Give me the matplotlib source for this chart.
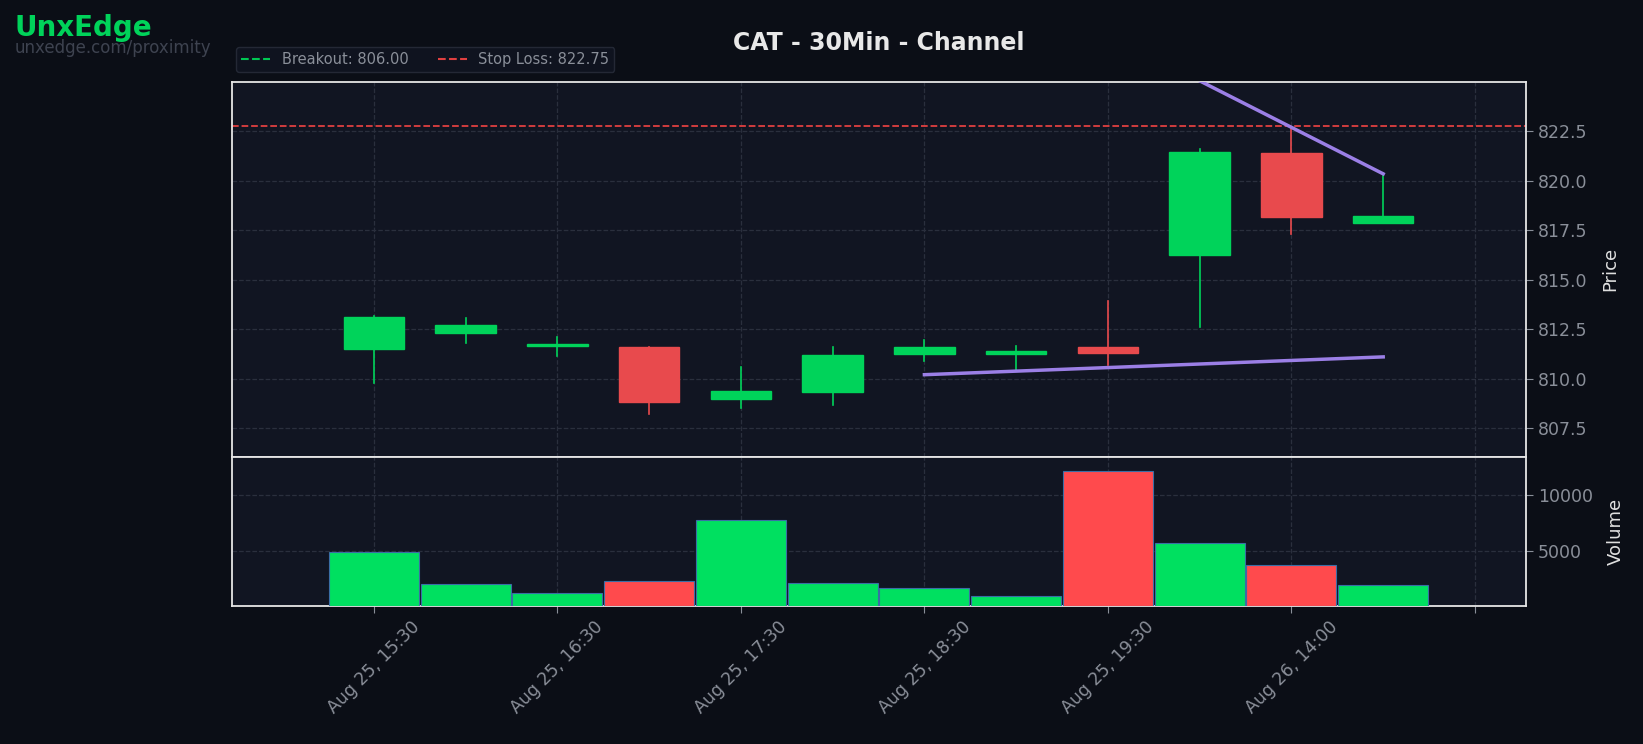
import matplotlib
matplotlib.use("Agg")
import matplotlib.pyplot as plt
from matplotlib.patches import Rectangle
from matplotlib.lines import Line2D

labels = ["Aug 25, 15:30", "Aug 25, 16:30", "Aug 25, 17:30", "Aug 25, 18:30", "Aug 25, 19:30", "Aug 26, 14:00", ""]
opens  = [811.5, 812.3, 811.65, 811.6, 808.95, 809.35, 811.25, 811.25, 811.6, 816.25, 821.4, 817.85]
highs  = [813.15, 813.05, 812.1, 811.6, 810.57, 811.58, 811.95, 811.63, 813.9, 821.6, 822.7, 820.4]
lows   = [809.8, 811.8, 811.15, 808.2, 808.5, 808.67, 810.9, 810.4, 810.68, 812.59, 817.3, 817.85]
closes = [813.1, 812.7, 811.7, 808.8, 809.4, 811.2, 811.6, 811.4, 811.3, 821.45, 818.15, 818.2]
volumes = [4900, 2040, 1200, 2300, 7700, 2130, 1670, 930, 12130, 5650, 3700, 1950]
upper_line = [(6, 832.1), (11, 820.35)]
lower_line = [(6, 810.2), (11, 811.1)]
breakout = 806.00
stop_loss = 822.75

BG = "#0b0e16"; AX = "#111522"; GREEN = "#00d35a"; RED = "#e84a4d"
VGREEN = "#00e060"; VRED = "#ff4a4d"; GRID = "#2a2f3d"; TXT = "#8a8f99"

fig = plt.figure(figsize=(16.43, 7.44), dpi=100, facecolor=BG)
L, R = 0.141, 0.929
ax = fig.add_axes([L, 0.386, R - L, 0.504], facecolor=AX)
axv = fig.add_axes([L, 0.185, R - L, 0.201], facecolor=AX, sharex=ax)

n = len(opens)
for i in range(n):
    o, h, l, c = opens[i], highs[i], lows[i], closes[i]
    up = c >= o
    col = GREEN if up else RED
    ax.plot([i, i], [l, h], color=col, lw=1.2, zorder=2)
    bot = min(o, c); ht = max(abs(c - o), 0.08)
    ax.add_patch(Rectangle((i - 0.33, bot), 0.66, ht, facecolor=col, edgecolor=col, lw=1, zorder=3))
    axv.bar(i, volumes[i], width=0.98, color=VGREEN if up else VRED, edgecolor="#3a6ea5", lw=0.8, zorder=3)

ax.plot(*zip(*upper_line), color="#9b7fe6", lw=2.5, zorder=4)
ax.plot(*zip(*lower_line), color="#9b7fe6", lw=2.5, zorder=4)
ax.axhline(breakout, color="#00c853", ls="--", lw=1.3)
ax.axhline(stop_loss, color="#e04040", ls="--", lw=1.3)

ax.set_xlim(-1.55, 12.56)
ax.set_ylim(806.05, 825.0)
axv.set_ylim(0, 13400)
ax.set_yticks([807.5, 810.0, 812.5, 815.0, 817.5, 820.0, 822.5])
ax.set_yticklabels([f"{v:.1f}" for v in [807.5, 810.0, 812.5, 815.0, 817.5, 820.0, 822.5]])
axv.set_yticks([5000, 10000])
ticks = [0, 2, 4, 6, 8, 10, 12]
axv.set_xticks(ticks)
axv.set_xticklabels(labels, rotation=45, ha="center")
plt.setp(ax.get_xticklabels(), visible=False)

for a in (ax, axv):
    a.yaxis.tick_right(); a.yaxis.set_label_position("right")
    a.tick_params(colors=TXT, labelsize=12.5, length=5)
    a.grid(True, color=GRID, ls="--", lw=0.9, zorder=0)
    for s in a.spines.values():
        s.set_color("#e6e6e6"); s.set_linewidth(1.3)
ax.set_ylabel("Price", color="#e0e0e0", fontsize=13, labelpad=10)
axv.set_ylabel("Volume", color="#e0e0e0", fontsize=13, labelpad=10)

fig.text(0.535, 0.942, "CAT - 30Min - Channel", ha="center", va="center", color="#e8e8e8", fontsize=17, weight="bold")
fig.text(0.009, 0.962, "UnxEdge", color="#00d35a", fontsize=20, weight="bold", va="center")
fig.text(0.009, 0.936, "unxedge.com/proximity", color="#3e4350", fontsize=12, va="center")

handles = [Line2D([], [], color="#00c853", ls="--", lw=1.5), Line2D([], [], color="#e04040", ls="--", lw=1.5)]
leg = fig.legend(handles, [f"Breakout: {breakout:.2f}", f"Stop Loss: {stop_loss:.2f}"], loc="lower left",
                 bbox_to_anchor=(L - 0.002, 0.893), ncol=2, fontsize=10.5, frameon=True,
                 facecolor=AX, edgecolor="#2a2f3d", labelcolor=TXT, handlelength=2, borderpad=0.35, columnspacing=2)
fig.savefig("out.png", dpi=100, facecolor=BG)
